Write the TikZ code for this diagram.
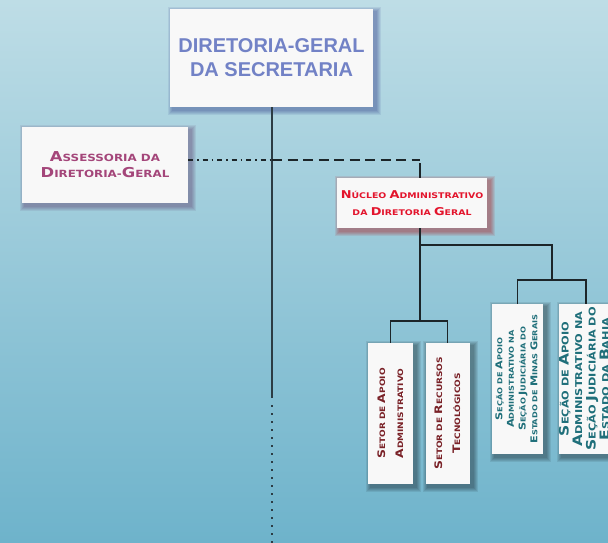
\documentclass[tikz,border=0pt]{standalone}
\usepackage{fontspec}
\usepackage{graphicx}
\setmainfont{Liberation Sans}
\newfontfamily\cpg[FakeStretch=1.2]{DejaVu Sans}
\usetikzlibrary{calc}
\definecolor{bgtop}{HTML}{BEDDE6}
\definecolor{bgbot}{HTML}{6EB3CB}
\definecolor{boxfill}{HTML}{F8F8F8}
\definecolor{dgblue}{HTML}{7282C6}
\definecolor{assmauve}{HTML}{A4467A}
\definecolor{nucred}{HTML}{E3142C}
\definecolor{setred}{HTML}{7A2228}
\definecolor{secteal}{HTML}{1F6F7A}
\definecolor{linecol}{HTML}{1C2529}
\definecolor{maincol}{HTML}{2C3C44}
\newcommand\B[1]{\scalebox{1.38}{#1}}
\pgfdeclarelayer{bg}\pgfdeclarelayer{shd}\pgfsetlayers{bg,shd,main}
\newcommand\boxshadow[3]{\begin{pgfonlayer}{shd}\foreach \r in {1,...,5}{\fill[#2,opacity=#3] ([shift={(3-\r,3+\r)}]#1.south west) rectangle ([shift={(3+\r,3-\r)}]#1.north east);}\end{pgfonlayer}}
\begin{document}
\begin{tikzpicture}[x=1pt,y=-1pt,
  box/.style={fill=boxfill, inner sep=0pt, align=center},
  mainline/.style={draw=maincol, line width=2pt},
  dotline/.style={draw=maincol, line width=2pt, dash pattern=on 2pt off 6pt},
  dashdotline/.style={draw=linecol, line width=1.6pt, dash pattern=on 5pt off 4pt on 1.5pt off 4pt},
  dashline/.style={draw=linecol, line width=1.8pt, dash pattern=on 10pt off 5.5pt},
  thinline/.style={draw=linecol, line width=1.6pt}]
\useasboundingbox (0,0) rectangle (608,542);
\begin{pgfonlayer}{bg}
\shade[top color=bgtop, bottom color=bgbot] (0,0) rectangle (608,542);
\end{pgfonlayer}

\node[box, minimum width=203, minimum height=98, text=dgblue,
  font=\fontsize{20}{24}\selectfont\bfseries] (dg) at (271.5,58)
  {DIRETORIA-GERAL\\DA SECRETARIA};
\node[box, minimum width=166, minimum height=76, text=assmauve,
  font=\cpg\bfseries\fontsize{9.9}{16}\selectfont] (ass) at (105,165)
  {\B{A}SSESSORIA DA\\\B{D}IRETORIA-\B{G}ERAL};
\node[box, minimum width=150, minimum height=50, text=nucred,
  font=\cpg\bfseries\fontsize{7.8}{16.5}\selectfont] (nuc) at (412,203)
  {\B{N}ÚCLEO \B{A}DMINISTRATIVO\\DA \B{D}IRETORIA \B{G}ERAL};
\node[box, minimum width=45, minimum height=141, text=setred] (set1) at (390.5,413.5)
  {\rotatebox{90}{\cpg\bfseries\fontsize{7.5}{18}\selectfont\begin{tabular}{@{}c@{}}\B{S}ETOR DE \B{A}POIO\\\B{A}DMINISTRATIVO\end{tabular}}};
\node[box, minimum width=44, minimum height=141, text=setred] (set2) at (447.5,413.5)
  {\rotatebox{90}{\cpg\bfseries\fontsize{7.5}{18}\selectfont\begin{tabular}{@{}c@{}}\B{S}ETOR DE \B{R}ECURSOS\\\B{T}ECNOLÓGICOS\end{tabular}}};
\node[box, minimum width=51, minimum height=150, text=secteal] (sec1) at (517.5,379)
  {\rotatebox{90}{\cpg\bfseries\fontsize{6.8}{11.7}\selectfont\begin{tabular}{@{}c@{}}\B{S}EÇÃO DE \B{A}POIO\\\B{A}DMINISTRATIVO NA\\\B{S}EÇÃO \B{J}UDICIÁRIA DO\\\B{E}STADO DE \B{M}INAS \B{G}ERAIS\end{tabular}}};
\node[box, minimum width=52, minimum height=150, text=secteal] (sec2) at (586,379)
  {\rotatebox{90}{\cpg\bfseries\fontsize{9.4}{13.3}\selectfont\begin{tabular}{@{}c@{}}\B{S}EÇÃO DE \B{A}POIO\\\B{A}DMINISTRATIVO NA\\\B{S}EÇÃO \B{J}UDICIÁRIA DO\\\B{E}STADO DA \B{B}AHIA\end{tabular}}};

\boxshadow{dg}{blue!40!black}{0.07}
\boxshadow{ass}{violet!50!black}{0.07}
\boxshadow{nuc}{red!70!black}{0.09}
\boxshadow{set1}{black}{0.08}
\boxshadow{set2}{black}{0.08}
\boxshadow{sec1}{black}{0.08}
\boxshadow{sec2}{black}{0.08}

\coordinate (j1) at (272,160);
\coordinate (j2) at (420,160);
\coordinate (j3) at (420,163);
\coordinate (b1) at (420,321);
\coordinate (n1) at (420,245);
\coordinate (n2) at (552,280);
\coordinate (d1) at (272,398);
\coordinate (d1b) at (272,405);
\coordinate (d2) at (272,546);

\draw[mainline] (dg.south -| d1) -- (d1);
\draw[dotline] (d1b) -- (d2);
\draw[dashdotline] (ass.east |- j1) -- (j1);
\draw[dashline] (j1) -- (j2);
\draw[thinline] (j3) -- (nuc.north -| j3);
\draw[thinline] (nuc.south -| j2) -- (b1);
\draw[thinline] (set1.north) -- (set1.north |- b1) -- (set2.north |- b1) -- (set2.north);
\draw[thinline] (n1) -| (n2);
\draw[thinline] (sec1.north) -- (sec1.north |- n2) -- (sec2.north |- n2) -- (sec2.north);
\end{tikzpicture}
\end{document}
